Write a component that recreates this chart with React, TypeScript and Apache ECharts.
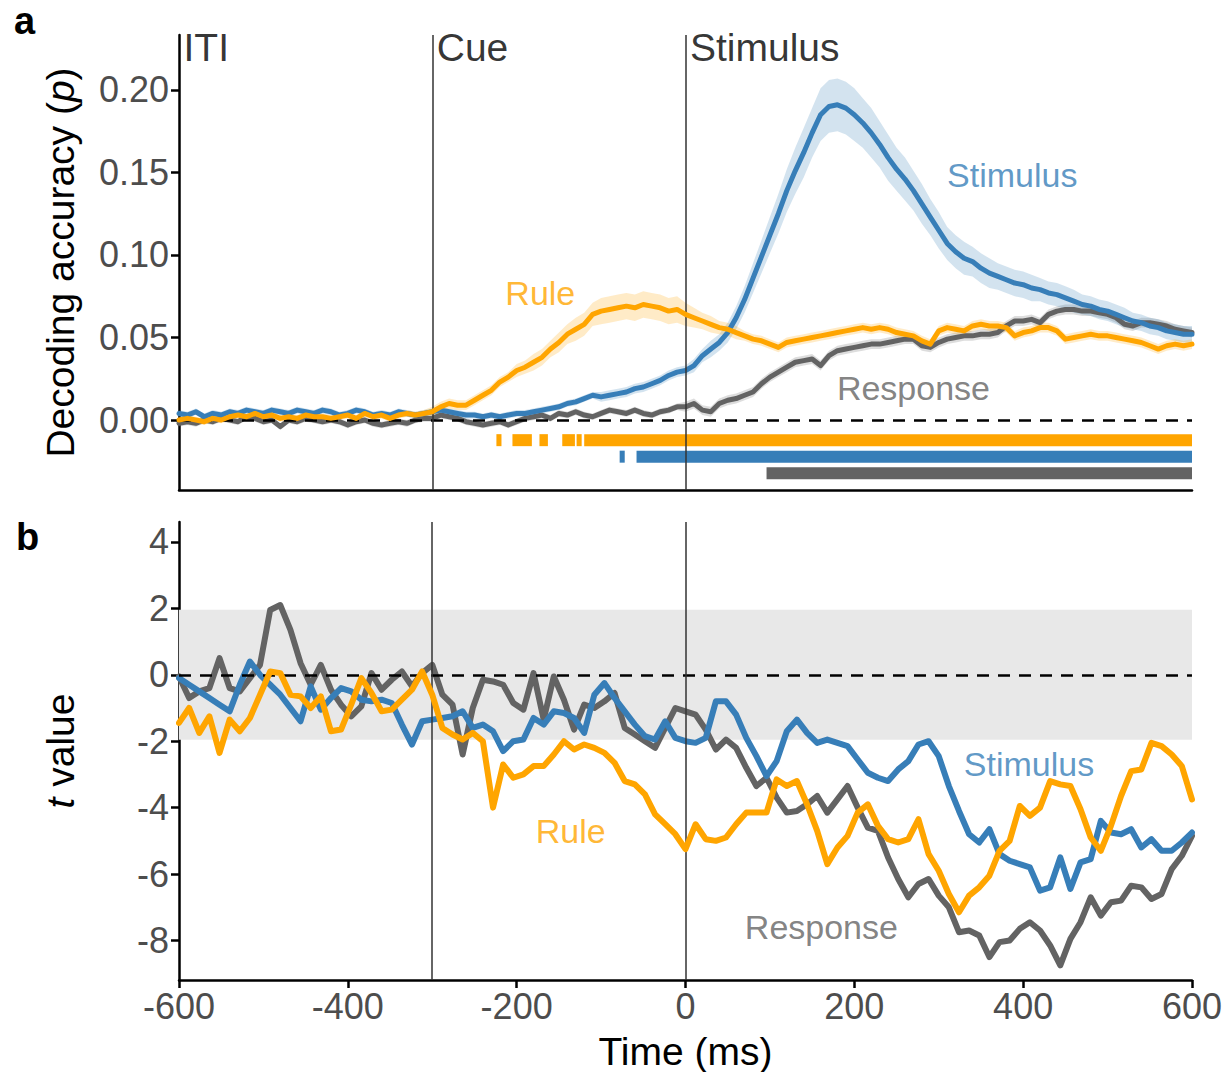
import React, { useEffect, useRef } from 'react';
import * as echarts from 'echarts';

// ---------- Panel a: decoding accuracy, 10 ms steps from -600 to 600 ----------
const TIME_A: number[] = Array.from({ length: 121 }, (_, i) => -600 + 10 * i);

const STIMULUS_A = [
  0.004, 0.003, 0.005, 0.002, 0.004, 0.003, 0.005, 0.004, 0.006, 0.005,
  0.004, 0.006, 0.005, 0.004, 0.006, 0.005, 0.004, 0.006, 0.005, 0.003,
  0.004, 0.006, 0.005, 0.003, 0.004, 0.003, 0.005, 0.004, 0.003, 0.004,
  0.005, 0.006, 0.005, 0.004, 0.003, 0.003, 0.002, 0.003, 0.002, 0.003,
  0.004, 0.004, 0.005, 0.006, 0.007, 0.008, 0.010, 0.011, 0.013, 0.015,
  0.014, 0.015, 0.016, 0.017, 0.019, 0.020, 0.022, 0.024, 0.027, 0.029,
  0.030, 0.033, 0.039, 0.043, 0.047, 0.053, 0.062, 0.073, 0.086, 0.099,
  0.112, 0.125, 0.139, 0.151, 0.162, 0.174, 0.185, 0.190, 0.191, 0.189,
  0.185, 0.180, 0.174, 0.167, 0.159, 0.152, 0.146, 0.139, 0.131, 0.123,
  0.115, 0.107, 0.102, 0.098, 0.096, 0.092, 0.089, 0.087, 0.085, 0.083,
  0.082, 0.080, 0.079, 0.077, 0.076, 0.074, 0.072, 0.070, 0.069, 0.067,
  0.066, 0.064, 0.062, 0.060, 0.059, 0.057, 0.056, 0.054, 0.053, 0.052,
  0.052,
];

const RULE_A = [
  0.000, 0.001, 0.000, -0.001, 0.001, 0.000, 0.002, 0.003, 0.002, 0.004,
  0.002, 0.003, 0.001, 0.002, 0.001, 0.003, 0.002, 0.002, 0.001, 0.002,
  0.003, 0.001, 0.004, 0.002, 0.003, 0.001, 0.003, 0.004, 0.003, 0.004,
  0.005, 0.008, 0.010, 0.009, 0.009, 0.012, 0.015, 0.018, 0.023, 0.026,
  0.030, 0.032, 0.035, 0.038, 0.043, 0.047, 0.052, 0.055, 0.058, 0.064,
  0.066, 0.067, 0.068, 0.069, 0.068, 0.070, 0.069, 0.068, 0.066, 0.067,
  0.064, 0.062, 0.060, 0.058, 0.056, 0.055, 0.053, 0.051, 0.049, 0.048,
  0.046, 0.044, 0.047, 0.048, 0.049, 0.050, 0.051, 0.052, 0.053, 0.054,
  0.055, 0.056, 0.055, 0.056, 0.055, 0.053, 0.052, 0.051, 0.048, 0.046,
  0.054, 0.056, 0.055, 0.054, 0.057, 0.058, 0.057, 0.057, 0.056, 0.051,
  0.053, 0.054, 0.056, 0.056, 0.054, 0.049, 0.050, 0.051, 0.052, 0.051,
  0.051, 0.050, 0.049, 0.048, 0.047, 0.045, 0.043, 0.045, 0.046, 0.045,
  0.046,
];

const RESPONSE_A = [
  -0.002, -0.001, -0.002, 0.000, -0.001, 0.001, 0.000, -0.001, 0.002, 0.001,
  -0.001, 0.000, -0.004, 0.000, -0.001, 0.001, 0.000, -0.001, 0.000, -0.001,
  -0.003, -0.001, 0.000, -0.002, -0.003, -0.002, -0.001, -0.002, 0.000, 0.001,
  0.001, 0.003, 0.002, 0.001, -0.001, -0.002, -0.003, -0.002, -0.001, -0.003,
  -0.001, 0.001, 0.002, 0.003, 0.001, 0.004, 0.003, 0.005, 0.003, 0.002,
  0.004, 0.006, 0.005, 0.004, 0.006, 0.004, 0.003, 0.005, 0.006, 0.008,
  0.008, 0.010, 0.006, 0.005, 0.010, 0.012, 0.013, 0.015, 0.017, 0.022,
  0.026, 0.029, 0.032, 0.035, 0.036, 0.037, 0.033, 0.039, 0.042, 0.043,
  0.044, 0.045, 0.046, 0.046, 0.047, 0.048, 0.049, 0.049, 0.045, 0.044,
  0.047, 0.049, 0.050, 0.051, 0.051, 0.052, 0.052, 0.053, 0.057, 0.060,
  0.060, 0.061, 0.059, 0.064, 0.066, 0.067, 0.067, 0.066, 0.066, 0.065,
  0.064, 0.062, 0.058, 0.057, 0.059, 0.059, 0.058, 0.057, 0.055, 0.054,
  0.053,
];

// Standard errors shown as ribbons around each accuracy curve
const STIMULUS_SEM = [
  0.002, 0.002, 0.002, 0.002, 0.002, 0.002, 0.002, 0.002, 0.002, 0.002,
  0.002, 0.002, 0.002, 0.002, 0.002, 0.002, 0.002, 0.002, 0.002, 0.002,
  0.002, 0.002, 0.002, 0.002, 0.002, 0.002, 0.002, 0.002, 0.002, 0.002,
  0.002, 0.002, 0.002, 0.002, 0.002, 0.002, 0.002, 0.002, 0.002, 0.002,
  0.002, 0.002, 0.002, 0.002, 0.002, 0.002, 0.002, 0.002, 0.002, 0.002,
  0.003, 0.003, 0.003, 0.003, 0.003, 0.003, 0.003, 0.003, 0.003, 0.003,
  0.003, 0.004, 0.004, 0.005, 0.005, 0.006, 0.007, 0.008, 0.009, 0.010,
  0.011, 0.012, 0.013, 0.014, 0.015, 0.015, 0.016, 0.016, 0.016, 0.016,
  0.016, 0.015, 0.015, 0.014, 0.014, 0.013, 0.013, 0.012, 0.012, 0.011,
  0.011, 0.010, 0.010, 0.010, 0.009, 0.009, 0.009, 0.008, 0.008, 0.008,
  0.008, 0.008, 0.007, 0.007, 0.007, 0.007, 0.007, 0.006, 0.006, 0.006,
  0.006, 0.006, 0.006, 0.005, 0.005, 0.005, 0.005, 0.005, 0.005, 0.005,
  0.005,
];

const RULE_SEM = [
  0.002, 0.002, 0.002, 0.002, 0.002, 0.002, 0.002, 0.002, 0.002, 0.002,
  0.002, 0.002, 0.002, 0.002, 0.002, 0.002, 0.002, 0.002, 0.002, 0.002,
  0.002, 0.002, 0.002, 0.002, 0.002, 0.002, 0.002, 0.002, 0.002, 0.002,
  0.003, 0.003, 0.003, 0.003, 0.003, 0.003, 0.003, 0.003, 0.003, 0.003,
  0.004, 0.004, 0.005, 0.005, 0.005, 0.006, 0.006, 0.007, 0.007, 0.007,
  0.008, 0.008, 0.008, 0.008, 0.008, 0.008, 0.008, 0.008, 0.008, 0.008,
  0.007, 0.006, 0.005, 0.005, 0.004, 0.004, 0.004, 0.003, 0.003, 0.003,
  0.003, 0.003, 0.003, 0.003, 0.003, 0.003, 0.003, 0.003, 0.003, 0.003,
  0.003, 0.003, 0.003, 0.003, 0.003, 0.003, 0.003, 0.003, 0.003, 0.003,
  0.003, 0.003, 0.003, 0.003, 0.003, 0.003, 0.003, 0.003, 0.003, 0.003,
  0.003, 0.003, 0.003, 0.003, 0.003, 0.003, 0.003, 0.003, 0.003, 0.003,
  0.003, 0.003, 0.003, 0.003, 0.003, 0.003, 0.003, 0.003, 0.003, 0.003,
  0.003,
];

const RESPONSE_SEM = [
  0.002, 0.002, 0.002, 0.002, 0.002, 0.002, 0.002, 0.002, 0.002, 0.002,
  0.002, 0.002, 0.002, 0.002, 0.002, 0.002, 0.002, 0.002, 0.002, 0.002,
  0.002, 0.002, 0.002, 0.002, 0.002, 0.002, 0.002, 0.002, 0.002, 0.002,
  0.002, 0.002, 0.002, 0.002, 0.002, 0.002, 0.002, 0.002, 0.002, 0.002,
  0.002, 0.002, 0.002, 0.002, 0.002, 0.002, 0.002, 0.002, 0.002, 0.002,
  0.002, 0.002, 0.002, 0.002, 0.002, 0.002, 0.002, 0.002, 0.002, 0.002,
  0.003, 0.003, 0.003, 0.003, 0.003, 0.003, 0.003, 0.003, 0.003, 0.003,
  0.003, 0.003, 0.003, 0.003, 0.003, 0.003, 0.003, 0.003, 0.003, 0.003,
  0.003, 0.003, 0.003, 0.003, 0.003, 0.003, 0.003, 0.003, 0.003, 0.003,
  0.003, 0.003, 0.003, 0.003, 0.003, 0.003, 0.003, 0.003, 0.003, 0.003,
  0.003, 0.003, 0.003, 0.003, 0.003, 0.003, 0.003, 0.003, 0.003, 0.003,
  0.003, 0.003, 0.003, 0.003, 0.003, 0.003, 0.003, 0.003, 0.003, 0.003,
  0.003,
];

// Significant clusters (ms), one row per factor
const RULE_SIG = [[-224, -218], [-205, -182], [-173, -163], [-146, -131], [-129, -123], [-120, 600]];
const STIMULUS_SIG = [[-78, -72], [-58, 600]];
const RESPONSE_SIG = [[96, 600]];
const SIG_ROWS = { rule: -0.0122, stimulus: -0.0222, response: -0.0322 };

const ACC_TICKS = [0, 0.05, 0.1, 0.15, 0.2];

// ---------- Panel b: t values, 12 ms steps from -600 to 600 ----------
const TIME_B: number[] = Array.from({ length: 101 }, (_, i) => -600 + 12 * i);

const RESPONSE_T = [
  -0.05, -0.7, -0.5, -0.4, 0.5, -0.4, -0.5, -0.1, 0.3, 1.95,
  2.1, 1.35, 0.35, -0.3, 0.3, -0.45, -0.9, -1.25, -0.95, 0.05,
  -0.45, -0.15, 0.1, -0.35, 0.05, 0.3, -0.6, -0.9, -2.4, -1.0,
  -0.15, -0.2, -0.3, -0.85, -1.05, 0.05, -1.35, -0.05, -0.75, -1.65,
  -0.9, -1.0, -0.8, -0.55, -1.6, -1.8, -2.0, -2.2, -1.6, -1.0,
  -1.1, -1.2, -1.65, -2.25, -1.95, -2.2, -2.8, -3.35, -3.1, -3.7,
  -4.15, -4.1, -3.9, -3.65, -4.15, -3.75, -3.35, -4.0, -4.6, -4.7,
  -5.5, -6.15, -6.7, -6.3, -6.15, -6.65, -7.0, -7.75, -7.7, -7.85,
  -8.5, -8.05, -8.0, -7.65, -7.45, -7.7, -8.15, -8.75, -7.95, -7.45,
  -6.7, -7.25, -6.85, -6.8, -6.35, -6.4, -6.75, -6.6, -5.85, -5.45,
  -4.85,
];

const STIMULUS_T = [
  -0.1, -0.3, -0.5, -0.7, -0.9, -1.1, -0.3, 0.4, 0.0, -0.3,
  -0.6, -1.0, -1.4, -0.35, -1.05, -0.7, -0.4, -0.5, -0.75, -0.8,
  -0.75, -0.85, -1.5, -2.1, -1.4, -1.35, -1.3, -1.25, -1.1, -1.6,
  -1.5, -1.7, -2.3, -2.0, -1.95, -1.3, -1.5, -1.1, -1.15, -1.3,
  -1.75, -0.6, -0.25, -0.7, -1.1, -1.5, -1.85, -1.95, -1.4, -1.9,
  -2.0, -2.05, -1.9, -0.8, -0.8, -1.2, -1.9, -2.45, -3.05, -2.6,
  -1.7, -1.35, -1.75, -2.05, -1.95, -2.05, -2.15, -2.55, -2.95, -3.1,
  -3.2, -2.85, -2.6, -2.1, -2.0, -2.45, -3.35, -4.1, -4.8, -5.05,
  -4.65, -5.4, -5.6, -5.7, -5.8, -6.5, -6.4, -5.5, -6.45, -5.65,
  -5.55, -4.4, -4.75, -4.8, -4.65, -5.2, -4.95, -5.3, -5.3, -5.05,
  -4.75,
];

const RULE_T = [
  -1.45, -1.0, -1.75, -1.25, -2.35, -1.35, -1.7, -1.3, -0.6, 0.1,
  0.05, -0.6, -0.65, -1.0, -0.65, -1.7, -1.65, -0.9, -0.1, -0.55,
  -1.1, -1.05, -0.75, -0.45, 0.1, -0.6, -1.6, -1.8, -1.95, -1.75,
  -2.0, -4.0, -2.7, -3.1, -3.0, -2.75, -2.75, -2.4, -2.0, -2.25,
  -2.1, -2.2, -2.35, -2.65, -3.2, -3.3, -3.6, -4.2, -4.5, -4.8,
  -5.25, -4.5, -4.95, -5.0, -4.9, -4.5, -4.15, -4.15, -4.15, -3.15,
  -3.35, -3.2, -3.9, -4.7, -5.7, -5.2, -4.85, -4.15, -3.9, -4.55,
  -4.95, -5.05, -4.95, -4.35, -5.4, -5.9, -6.6, -7.15, -6.65, -6.4,
  -6.05, -5.3, -5.0, -3.95, -4.25, -4.0, -3.2, -3.3, -3.35, -4.05,
  -4.9, -5.3, -4.55, -3.65, -2.9, -2.85, -2.05, -2.15, -2.4, -2.75,
  -3.75,
];

const T_TICKS = [-8, -6, -4, -2, 0, 2, 4];
const T_CRIT = 1.96;

// Event onsets (ms) and the factor names written beside the curves
const EVENTS = [
  { name: 'ITI', t: -600 },
  { name: 'Cue', t: -300 },
  { name: 'Stimulus', t: 0 },
];

const COLORS = {
  rule: '#FFA500',
  stimulus: '#377EB8',
  response: '#636363',
};
const RIBBONS = {
  rule: 'rgba(255,165,0,0.22)',
  stimulus: 'rgba(55,126,184,0.22)',
  response: 'rgba(99,99,99,0.22)',
};

const FONT = '"Liberation Sans", Arial, Helvetica, sans-serif';

function ribbon(values: number[], sem: number[], fill: string) {
  return {
    type: 'custom',
    xAxisIndex: 0,
    yAxisIndex: 0,
    silent: true,
    z: 2,
    data: TIME_A.map((t, i) => [t, values[i] - sem[i], values[i] + sem[i]]),
    encode: { x: 0, y: [1, 2] },
    renderItem: (params: any, api: any) => {
      if (params.dataIndex !== 0) return null;
      const upper = TIME_A.map((t, i) => api.coord([t, values[i] + sem[i]]));
      const lower = TIME_A.map((t, i) => api.coord([t, values[i] - sem[i]])).reverse();
      return {
        type: 'polygon',
        shape: { points: upper.concat(lower) },
        style: { fill },
      };
    },
  };
}

function curve(times: number[], values: number[], color: string, panel: number, width: number, z: number) {
  return {
    type: 'line',
    xAxisIndex: panel,
    yAxisIndex: panel,
    data: times.map((t, i) => [t, values[i]]),
    showSymbol: false,
    symbol: 'none',
    silent: true,
    z,
    lineStyle: { color, width, join: 'round', cap: 'round' },
  };
}

function sigBars(segments: number[][], level: number, color: string) {
  return {
    type: 'custom',
    xAxisIndex: 0,
    yAxisIndex: 0,
    silent: true,
    z: 3,
    data: segments.map((s) => [s[0], s[1], level]),
    encode: { x: [0, 1], y: 2 },
    renderItem: (_params: any, api: any) => {
      const a = api.coord([api.value(0), api.value(2)]);
      const b = api.coord([api.value(1), api.value(2)]);
      return {
        type: 'rect',
        shape: { x: a[0], y: a[1] - 6, width: b[0] - a[0], height: 12 },
        style: { fill: color },
      };
    },
  };
}

function tag(panel: number, t: number, v: number, text: string, color: string) {
  return {
    type: 'scatter',
    xAxisIndex: panel,
    yAxisIndex: panel,
    silent: true,
    z: 6,
    symbolSize: 1,
    itemStyle: { color: 'rgba(0,0,0,0)' },
    data: [[t, v]],
    label: {
      show: true,
      position: 'inside',
      formatter: text,
      color,
      fontSize: 34,
      fontFamily: FONT,
    },
  };
}

function refLines(panel: number) {
  return {
    type: 'line',
    xAxisIndex: panel,
    yAxisIndex: panel,
    data: [],
    silent: true,
    z: 1,
    markLine: {
      silent: true,
      symbol: ['none', 'none'],
      label: { show: false },
      animation: false,
      data: [
        { yAxis: 0, lineStyle: { color: '#000', width: 2.5, type: [12, 9] } },
        { xAxis: -300, lineStyle: { color: '#333', width: 1.5, type: 'solid' } },
        { xAxis: 0, lineStyle: { color: '#333', width: 1.5, type: 'solid' } },
      ],
    },
  };
}

const axisLineStyle = { lineStyle: { color: '#000', width: 2.5 } };
const tickStyle = { length: 8, lineStyle: { color: '#000', width: 2.5 } };
const tickLabel = { color: '#4D4D4D', fontSize: 36, fontFamily: FONT, margin: 10 };
const titleStyle = { color: '#000', fontSize: 39, fontFamily: FONT };

const option: any = {
  animation: false,
  backgroundColor: '#fff',
  grid: [
    { left: 179, top: 35, width: 1013, height: 455 },
    { left: 179, top: 522, width: 1013, height: 459 },
  ],
  xAxis: [
    {
      gridIndex: 0,
      type: 'value',
      min: -600,
      max: 600,
      axisLine: { show: true, onZero: false, ...axisLineStyle },
      axisTick: { show: false },
      axisLabel: { show: false },
      splitLine: { show: false },
    },
    {
      gridIndex: 1,
      type: 'value',
      min: -600,
      max: 600,
      interval: 200,
      axisLine: { show: true, onZero: false, ...axisLineStyle },
      axisTick: { show: true, ...tickStyle },
      axisLabel: { ...tickLabel, margin: 8 },
      splitLine: { show: false },
      name: 'Time (ms)',
      nameLocation: 'middle',
      nameGap: 52,
      nameTextStyle: titleStyle,
    },
  ],
  yAxis: [
    {
      gridIndex: 0,
      type: 'value',
      min: -0.0424,
      max: 0.2333,
      axisLine: { show: true, onZero: false, ...axisLineStyle },
      axisTick: { show: true, ...tickStyle, customValues: ACC_TICKS },
      axisLabel: {
        ...tickLabel,
        customValues: ACC_TICKS,
        formatter: (v: number) => v.toFixed(2),
      },
      splitLine: { show: false },
      name: 'Decoding accuracy ({i|p})',
      nameLocation: 'middle',
      nameGap: 99,
      nameTextStyle: {
        ...titleStyle,
        rich: { i: { ...titleStyle, fontStyle: 'italic' } },
      },
    },
    {
      gridIndex: 1,
      type: 'value',
      min: -9.19,
      max: 4.6,
      axisLine: { show: true, onZero: false, ...axisLineStyle },
      axisTick: { show: true, ...tickStyle, customValues: T_TICKS },
      axisLabel: { ...tickLabel, customValues: T_TICKS },
      splitLine: { show: false },
      name: '{i|t} value',
      nameLocation: 'middle',
      nameGap: 99,
      nameTextStyle: {
        ...titleStyle,
        rich: { i: { ...titleStyle, fontStyle: 'italic' } },
      },
    },
  ],
  graphic: [
    { type: 'text', left: 14, top: 2, style: { text: 'a', fill: '#000', font: `bold 38px ${FONT}` } },
    { type: 'text', left: 16, top: 518, style: { text: 'b', fill: '#000', font: `bold 38px ${FONT}` } },
  ],
  series: [
    // Panel a
    refLines(0),
    ribbon(RESPONSE_A, RESPONSE_SEM, RIBBONS.response),
    ribbon(STIMULUS_A, STIMULUS_SEM, RIBBONS.stimulus),
    ribbon(RULE_A, RULE_SEM, RIBBONS.rule),
    curve(TIME_A, RESPONSE_A, COLORS.response, 0, 5, 3),
    curve(TIME_A, STIMULUS_A, COLORS.stimulus, 0, 5, 4),
    curve(TIME_A, RULE_A, COLORS.rule, 0, 5, 5),
    sigBars(RULE_SIG, SIG_ROWS.rule, COLORS.rule),
    sigBars(STIMULUS_SIG, SIG_ROWS.stimulus, COLORS.stimulus),
    sigBars(RESPONSE_SIG, SIG_ROWS.response, COLORS.response),
    {
      type: 'scatter',
      xAxisIndex: 0,
      yAxisIndex: 0,
      silent: true,
      z: 6,
      symbolSize: 1,
      itemStyle: { color: 'rgba(0,0,0,0)' },
      data: EVENTS.map((e) => ({ value: [e.t, 0.2255], name: e.name })),
      label: {
        show: true,
        position: 'right',
        distance: 4,
        formatter: (p: any) => p.name,
        color: '#000',
        fontSize: 39,
        fontFamily: FONT,
      },
    },
    tag(0, 387, 0.1485, 'Stimulus', COLORS.stimulus),
    tag(0, -172, 0.077, 'Rule', COLORS.rule),
    tag(0, 270, 0.0194, 'Response', COLORS.response),

    // Panel b
    {
      type: 'line',
      xAxisIndex: 1,
      yAxisIndex: 1,
      data: [],
      silent: true,
      z: 0,
      markArea: {
        silent: true,
        itemStyle: { color: '#E8E8E8' },
        data: [[{ yAxis: -T_CRIT }, { yAxis: T_CRIT }]],
      },
    },
    refLines(1),
    curve(TIME_B, RESPONSE_T, COLORS.response, 1, 6, 3),
    curve(TIME_B, STIMULUS_T, COLORS.stimulus, 1, 6, 4),
    curve(TIME_B, RULE_T, COLORS.rule, 1, 6, 5),
    tag(1, 407, -2.7, 'Stimulus', COLORS.stimulus),
    tag(1, -136, -4.71, 'Rule', COLORS.rule),
    tag(1, 161, -7.6, 'Response', COLORS.response),
  ],
};

export default function App() {
  const ref = useRef<HTMLDivElement>(null);
  useEffect(() => {
    document.body.style.margin = '0';
    const chart = echarts.init(ref.current as HTMLDivElement, null, { renderer: 'svg' });
    chart.setOption(option);
    return () => chart.dispose();
  }, []);
  return <div ref={ref} style={{ width: 1225, height: 1072 }} />;
}
